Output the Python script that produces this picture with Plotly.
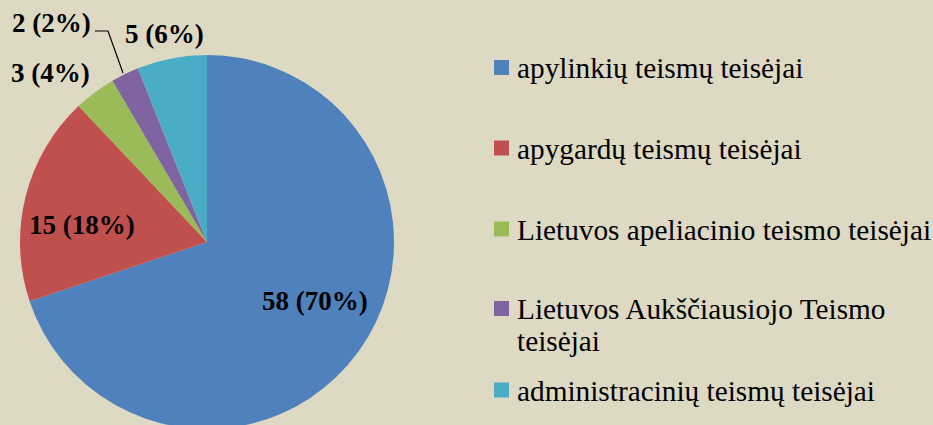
import plotly.graph_objects as go

categories = [
    "apylinkių teismų teisėjai",
    "apygardų teismų teisėjai",
    "Lietuvos apeliacinio teismo teisėjai",
    "Lietuvos Aukščiausiojo Teismo teisėjai",
    "administracinių teismų teisėjai",
]
values = [58, 15, 3, 2, 5]
colors = ["#4F81BD", "#C0504D", "#9BBB59", "#8064A2", "#4BACC6"]
legend_lines = [
    ["apylinkių teismų teisėjai"],
    ["apygardų teismų teisėjai"],
    ["Lietuvos apeliacinio teismo teisėjai"],
    ["Lietuvos Aukščiausiojo Teismo", "teisėjai"],
    ["administracinių teismų teisėjai"],
]

W, H = 933, 429
BG = "#DDD9C3"


def px(x):
    return x / W


def py(y):
    return 1 - y / H


total = sum(values)
label_texts = [f"{v} ({round(100 * v / total)}%)" for v in values]

cx, cy, r = 207, 242, 187
fig = go.Figure(
    go.Pie(
        labels=categories,
        values=values,
        textinfo="none",
        sort=False,
        direction="clockwise",
        rotation=0,
        marker=dict(colors=colors, line=dict(width=0)),
        domain=dict(x=[px(cx - r), px(cx + r)], y=[max(0, py(cy + r)), py(cy - r)]),
        showlegend=False,
        hoverinfo="label+value+percent",
    )
)

annotations = []
shapes = []
label_font = dict(family="Liberation Serif", size=27, color="black", weight="bold")
# data label centres (pixels)
label_pos = [(314.5, 301), (82, 225), (50.5, 72.5), (51, 23), (164.5, 34)]
for i, (x, y) in enumerate(label_pos):
    annotations.append(dict(x=px(x), y=py(y), xref="paper", yref="paper", text=label_texts[i],
                            showarrow=False, font=label_font, xanchor="center", yanchor="middle"))
# leader line for "2 (2%)"
shapes.append(dict(type="path", xref="paper", yref="paper",
                   path=f"M {px(95)} {py(31)} L {px(108)} {py(31)} L {px(123)} {py(73)}",
                   line=dict(color="black", width=1.2)))

# manual legend
leg_font = dict(family="Liberation Serif", size=29.3, color="black")
row_centers = [67.5, 148, 229, 308.5, 390]
for i, lines in enumerate(legend_lines):
    yc = row_centers[i]
    shapes.append(dict(type="rect", xref="paper", yref="paper",
                       x0=px(494), x1=px(509), y0=py(yc - 7.5), y1=py(yc + 7.5),
                       fillcolor=colors[i], line=dict(width=0)))
    for j, line in enumerate(lines):
        annotations.append(dict(x=px(515), y=py(yc + 0.5 + 32 * j), xref="paper", yref="paper",
                                text=line, showarrow=False, font=leg_font,
                                xanchor="left", yanchor="middle"))

fig.update_layout(
    width=W, height=H,
    margin=dict(l=0, r=0, t=0, b=0),
    paper_bgcolor=BG, plot_bgcolor=BG,
    annotations=annotations, shapes=shapes,
)
fig.write_html(
    "out.html",
    config={"displayModeBar": False},
    post_script="document.body.style.margin='0';document.body.style.overflow='hidden';"
                "document.documentElement.style.overflow='hidden';",
)
